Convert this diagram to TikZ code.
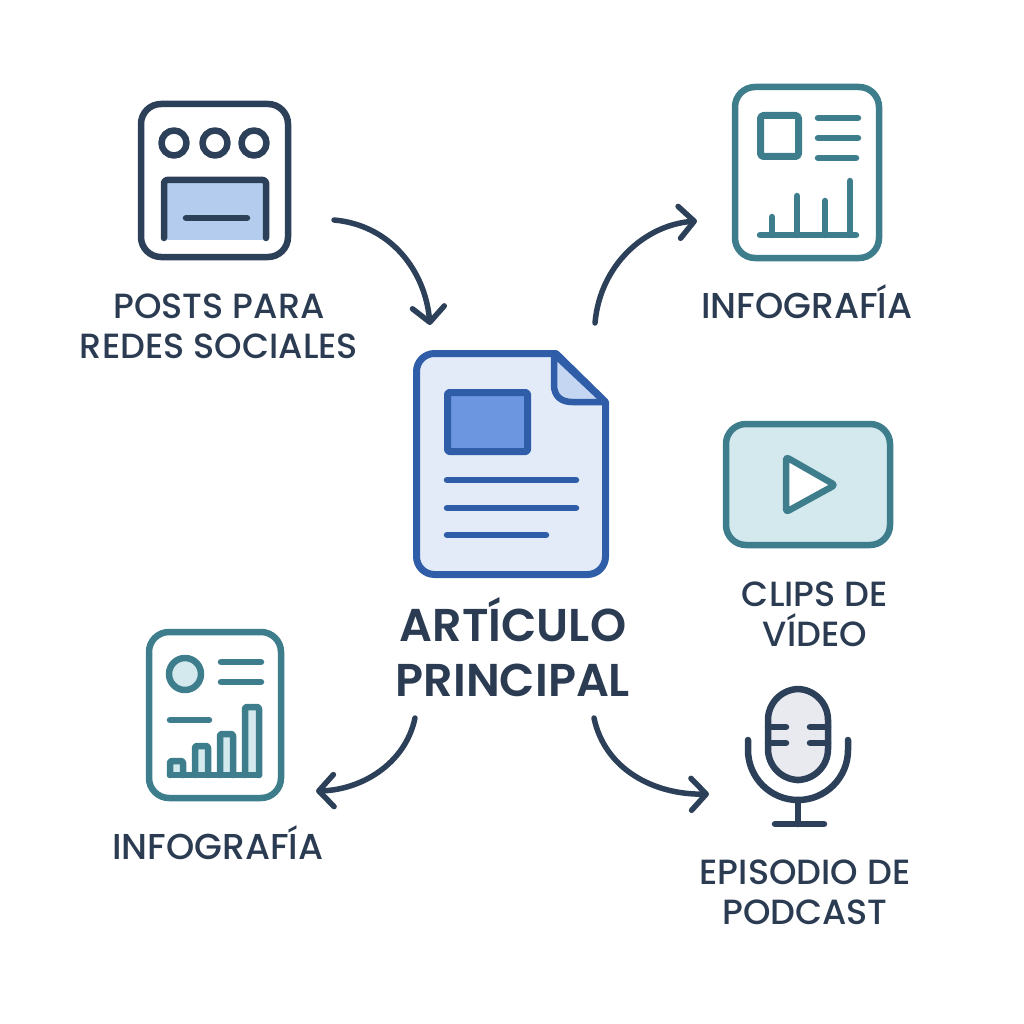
\documentclass[tikz,border=0pt]{standalone}
\usepackage{fontspec}
\setmainfont{Poppins Medium}
\newfontfamily\titlefont{Poppins SemiBold}
\usetikzlibrary{arrows.meta}
\definecolor{navy}{HTML}{2D4059}
\definecolor{inktext}{HTML}{2A3B52}
\definecolor{teal}{HTML}{3E7E8C}
\definecolor{tealpale}{HTML}{D4E9EE}
\definecolor{docblue}{HTML}{2F5DA8}
\definecolor{docpale}{HTML}{E3EAF8}
\definecolor{docfold}{HTML}{C5D6F2}
\definecolor{docpic}{HTML}{6C96E0}
\definecolor{postfill}{HTML}{B4CDEE}
\definecolor{micfill}{HTML}{E9EAF0}
\begin{document}
\begin{tikzpicture}[x=1pt,y=-1pt,line cap=round,line join=round]
        \tikzstyle{navyline}=[draw=navy,line width=6.5pt]
        \tikzstyle{tealline}=[draw=teal,line width=6.5pt]
        \tikzstyle{docline}=[draw=docblue,line width=6.5pt]
        \tikzstyle{label}=[text=inktext,align=center,font=\fontsize{35}{40}\selectfont]
        \tikzstyle{edge}=[draw=navy,line width=5.5pt,-{Straight Barb[length=15pt,width=32pt,round]}]
        \useasboundingbox (0,0) rectangle (1024,1024);
        % posts
        \draw[navyline,rounded corners=20] (141,104) rectangle (288,257);
        \foreach \cx in {174,215,254} \draw[navyline] (\cx,143) circle (12.5);
        \fill[postfill] (167,183) rectangle (263,240);
        \draw[navyline,rounded corners=3] (164,238) -- (164,180) -- (266,180) -- (266,238);
        \draw[navyline] (186,218) -- (247,218);
        \node[label] (posts) at (219,326) {POSTS PARA\\REDES SOCIALES};
        % document
        \draw[docline,line width=7pt,fill=docpale] (416.5,460) [rounded corners=18] -- (416.5,353.5) -- (480,353.5) [sharp corners] -- (556,353.5) -- (605.5,402) [rounded corners=18] -- (605.5,574.5) -- (416.5,574.5) -- cycle;
        \draw[docline,fill=docfold] (554,354) -- (605,402) -- (572,402) .. controls (561,402) and (554,396) .. (554,385) -- cycle;
        \draw[docline,line width=7pt,fill=docpic,rounded corners=2] (447.5,392.5) rectangle (527.5,451.5);
        \draw[docline] (447,480) -- (576,480);
        \draw[docline] (447,508) -- (576,508);
        \draw[docline] (447,535) -- (546,535);
        \node[label,font=\titlefont\fontsize{46}{55}\selectfont] (article) at (513,647) {ARTÍCULO\\PRINCIPAL};
        % infographic, top
        \draw[tealline,rounded corners=20] (735,87) rectangle (879,258);
        \draw[tealline,line width=7pt,rounded corners=3] (760.5,115.5) rectangle (798.5,156.5);
        \draw[tealline] (818,118) -- (858,118);
        \draw[tealline] (818,138) -- (858,138);
        \draw[tealline] (818,158) -- (856,158);
        \draw[tealline] (760,235) -- (856,235);
        \foreach \bx/\by in {772/217,797/196,825/201,850/181} \draw[tealline] (\bx,235) -- (\bx,\by);
        \node[label,font=\fontsize{36}{40}\selectfont] (infotop) at (807,302) {INFOGRAFÍA};
        % video
        \draw[tealline,line width=6.5pt,fill=tealpale,rounded corners=20] (726,424) rectangle (890,545);
        \draw[tealline,fill=white,rounded corners=3] (786,457) -- (835,485) -- (786,512) -- cycle;
        \node[label] (clips) at (815,614) {CLIPS DE\\VÍDEO};
        % microphone
        \draw[navyline,fill=micfill,rounded corners=31] (768,689) rectangle (828,780);
        \draw[navyline] (768,727) -- (786,727);
        \draw[navyline] (768,743) -- (786,743);
        \draw[navyline] (810,727) -- (828,727);
        \draw[navyline] (810,743) -- (828,743);
        \draw[navyline] (748,740) -- (748,750) arc[start angle=180,end angle=0,x radius=50,y radius=50] -- (848,740);
        \draw[navyline] (798,800) -- (798,824);
        \draw[navyline] (775,824) -- (824,824);
        \node[label] (podcast) at (805,892) {EPISODIO DE\\PODCAST};
        % infographic, bottom
        \draw[tealline,rounded corners=20] (149,632) rectangle (281,798);
        \draw[tealline,fill=tealpale] (185,674) circle (16);
        \draw[tealline] (221,662) -- (261,662);
        \draw[tealline] (221,682) -- (261,682);
        \draw[tealline] (170,720) -- (209,720);
        \foreach \lx/\rx/\ty in {170/183/761,195/208/746,220/233/734,245/259/707}
          \draw[tealline,fill=tealpale,rounded corners=2] (\lx,775) -- (\lx,\ty) -- (\rx,\ty) -- (\rx,775);
        \draw[tealline] (170,775) -- (259,775);
        \node[label,font=\fontsize{36}{40}\selectfont] (infolow) at (218,843) {INFOGRAFÍA};
        % connectors
        \coordinate (a1) at (334,220);
        \coordinate (a2) at (430,325);
        \coordinate (b1) at (595,323);
        \coordinate (b2) at (697,221);
        \coordinate (c1) at (415,718);
        \coordinate (c2) at (316,791);
        \coordinate (d1) at (594,718);
        \coordinate (d2) at (709,794);
        \path[edge] (a1) .. controls (390,225) and (425,270) .. (a2);
        \path[edge] (b1) .. controls (600,265) and (645,225) .. (b2);
        \path[edge] (c1) .. controls (405,765) and (360,790) .. (c2);
        \path[edge] (d1) .. controls (605,770) and (655,795) .. (d2);
\end{tikzpicture}
\end{document}
